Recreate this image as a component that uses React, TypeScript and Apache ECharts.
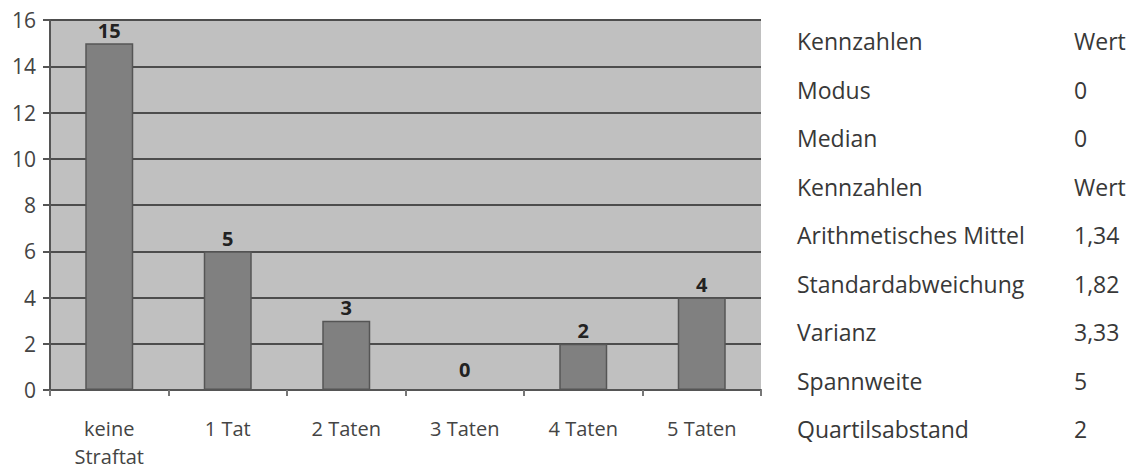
import React, { useEffect, useRef } from "react";
import * as echarts from "echarts";

const categories = ["keine\nStraftat", "1 Tat", "2 Taten", "3 Taten", "4 Taten", "5 Taten"];
const barValues = [15, 6, 3, 0, 2, 4];
const barLabels = ["15", "5", "3", "0", "2", "4"];
const tableLabels = [
  "Kennzahlen",
  "Modus",
  "Median",
  "Kennzahlen",
  "Arithmetisches Mittel",
  "Standardabweichung",
  "Varianz",
  "Spannweite",
  "Quartilsabstand",
];
const tableValues = ["Wert", "0", "0", "Wert", "1,34", "1,82", "3,33", "5", "2"];

const FONT = "'Open Sans', 'Noto Sans', sans-serif";

export default function App() {
  const ref = useRef<HTMLDivElement>(null);
  useEffect(() => {
    document.body.style.margin = "0";
    const chart = echarts.init(ref.current!, undefined, { renderer: "svg" });
    const rowTop = 41;
    const rowGap = 48.5;
    const graphic: any[] = [];
    tableLabels.forEach((t, i) => {
      graphic.push({
        type: "text",
        x: 797,
        y: rowTop + i * rowGap,
        style: { text: t, font: `23px ${FONT}`, fill: "#383838", verticalAlign: "middle" },
      });
      graphic.push({
        type: "text",
        x: 1074,
        y: rowTop + i * rowGap,
        style: { text: tableValues[i], font: `23px ${FONT}`, fill: "#383838", verticalAlign: "middle" },
      });
    });
    const seriesData = barValues.map((v) => ({
      value: v,
      label: { distance: v === 0 ? 10 : 3 },
    }));
    chart.setOption({
      animation: false,
      grid: {
        left: 50,
        top: 20,
        right: 1137 - 761,
        bottom: 468 - 390,
        containLabel: false,
        outerBoundsMode: "none",
      },
      xAxis: {
        type: "category",
        data: categories,
        axisLine: { lineStyle: { color: "#555", width: 2 } },
        axisTick: { show: true, length: 6, lineStyle: { color: "#777", width: 2 } },
        axisLabel: {
          color: "#444",
          fontSize: 20,
          fontFamily: FONT,
          lineHeight: 28,
          margin: 24,
        },
        splitArea: { show: false },
      },
      yAxis: {
        type: "value",
        min: 0,
        max: 16,
        interval: 2,
        axisLine: { show: true, lineStyle: { color: "#555", width: 2 } },
        axisTick: { show: true, length: 7, lineStyle: { color: "#555", width: 2 } },
        axisLabel: { color: "#444", fontSize: 21, fontFamily: FONT, margin: 14 },
        splitLine: { show: true, lineStyle: { color: "#4d4d4d", width: 2 } },
      },
      series: [
        {
          type: "bar",
          data: seriesData,
          barWidth: 48,
          itemStyle: { color: "#808080", borderColor: "#555", borderWidth: 1.5 },
          label: {
            show: true,
            position: "top",
            distance: 3,
            formatter: (p: any) => barLabels[p.dataIndex],
            color: "#222",
            fontSize: 20,
            fontWeight: "bold",
            fontFamily: FONT,
          },
        },
      ],
      graphic: [
        {
          type: "rect",
          shape: { x: 50, y: 20, width: 711, height: 370 },
          style: { fill: "#c0c0c0" },
          z: -10,
          silent: true,
        },
        ...graphic,
      ],
    });
    return () => chart.dispose();
  }, []);
  return <div ref={ref} style={{ width: 1137, height: 468 }} />;
}
